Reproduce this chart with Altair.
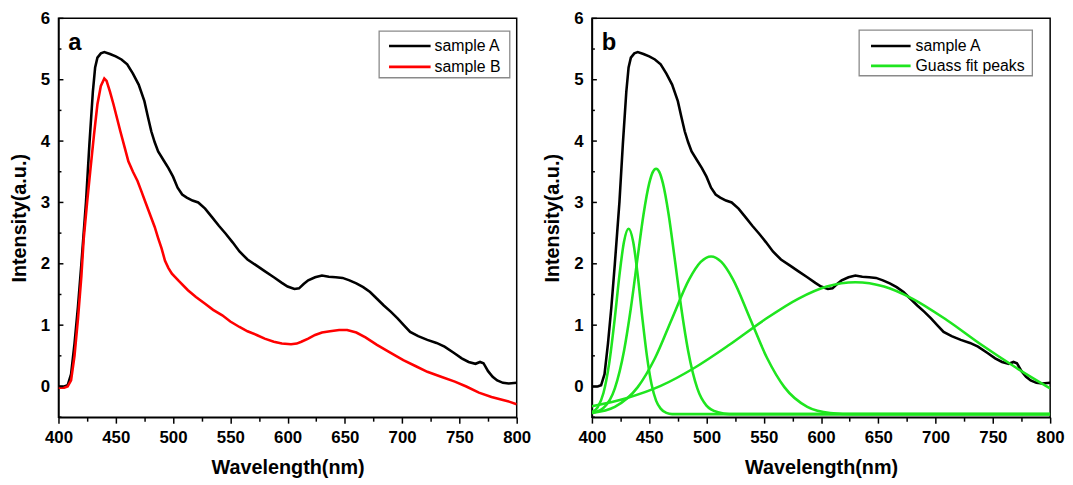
import altair as alt
import pandas as pd

# ---------------- data ----------------
wl_A = [400, 405, 408, 411, 414, 417, 420, 422, 424, 427,
        430, 432, 434, 437, 440, 445, 450, 455, 460, 465,
        470, 475, 478, 481, 484, 487, 492, 496, 500, 504,
        508, 512, 517, 522, 528, 534, 540, 546, 552, 558,
        565, 573, 580, 588, 595, 600, 606, 610, 614, 618,
        624, 630, 636, 642, 648, 654, 660, 666, 672, 678,
        684, 690, 696, 702, 707, 714, 722, 730, 737, 745,
        752, 758, 764, 768, 771, 775, 779, 783, 788, 793,
        800]
int_A = [0.0, 0.0, 0.02, 0.2, 0.7, 1.3, 2.0, 2.5, 3.0, 3.95,
         4.8, 5.2, 5.36, 5.43, 5.45, 5.42, 5.38, 5.33, 5.25, 5.1,
         4.92, 4.65, 4.4, 4.16, 3.98, 3.83, 3.68, 3.56, 3.42, 3.24,
         3.13, 3.08, 3.03, 3.0, 2.9, 2.76, 2.62, 2.49, 2.35, 2.2,
         2.07, 1.97, 1.88, 1.78, 1.69, 1.63, 1.59, 1.6, 1.67, 1.73,
         1.78, 1.81, 1.79, 1.78, 1.77, 1.73, 1.68, 1.62, 1.54, 1.43,
         1.32, 1.22, 1.11, 0.99, 0.89, 0.82, 0.76, 0.71, 0.65, 0.55,
         0.46, 0.40, 0.37, 0.40, 0.38, 0.25, 0.16, 0.10, 0.06, 0.05,
         0.06]

wl_B = [400, 405, 408, 411, 414, 417, 420, 422, 425, 428,
        431, 434, 437, 440, 442, 445, 448, 451, 454, 458,
        461, 465, 469, 472, 476, 480, 484, 487, 490, 493,
        496, 499, 505, 513, 520, 528, 535, 543, 550, 558,
        565, 573, 580, 588, 595, 603, 608, 612, 618, 624,
        630, 637, 645, 652, 660, 668, 678, 690, 701, 712,
        722, 734, 746, 756, 767, 778, 788, 794, 800]
int_B = [-0.02, -0.02, 0.0, 0.1, 0.5, 1.1, 1.8, 2.4, 3.0, 3.56,
         4.1, 4.6, 4.9, 5.02, 4.98, 4.8, 4.6, 4.38, 4.16, 3.88,
         3.67, 3.5, 3.35, 3.2, 3.0, 2.8, 2.6, 2.42, 2.25, 2.05,
         1.93, 1.84, 1.72, 1.57, 1.46, 1.35, 1.25, 1.16, 1.06, 0.97,
         0.9, 0.84, 0.78, 0.73, 0.70, 0.69, 0.7, 0.73, 0.78, 0.84,
         0.88, 0.9, 0.92, 0.92, 0.88, 0.8, 0.68, 0.55, 0.43, 0.33,
         0.24, 0.16, 0.08, 0.0, -0.1, -0.17, -0.22, -0.25, -0.29]

fit1_wl = [400, 405, 410, 415, 420, 424, 428, 432, 436, 440, 444, 448, 452, 456, 460, 465, 470, 800]
fit1_v = [-0.42, -0.34, -0.11, 0.37, 1.12, 1.81, 2.36, 2.57, 2.36, 1.81, 1.12, 0.50, 0.04, -0.23, -0.36, -0.43, -0.45, -0.45]

fit2_wl = [400, 410, 420, 428, 434, 440, 445, 450, 453, 456, 459, 462, 467, 472, 478, 484, 492, 500, 510, 520, 800]
fit2_v = [-0.43, -0.35, -0.03, 0.58, 1.28, 2.12, 2.80, 3.31, 3.49, 3.55, 3.49, 3.31, 2.80, 2.12, 1.28, 0.58, -0.03, -0.31, -0.42, -0.45, -0.45]

fit3_wl = [400, 420, 440, 455, 470, 485, 495, 504, 513, 523, 538, 553, 568, 588, 608, 630, 800]
fit3_v = [-0.43, -0.33, -0.01, 0.46, 1.11, 1.75, 2.03, 2.12, 2.03, 1.75, 1.11, 0.46, -0.01, -0.33, -0.43, -0.45, -0.45]

fit4_wl = [400, 430, 460, 490, 520, 550, 580, 605, 630, 655, 680, 710, 740, 770, 800]
fit4_v = [-0.32, -0.19, 0.01, 0.31, 0.68, 1.08, 1.43, 1.63, 1.70, 1.63, 1.43, 1.08, 0.68, 0.31, -0.03]

x_ticks = [400, 425, 450, 475, 500, 525, 550, 575, 600, 625, 650, 675, 700, 725, 750, 775, 800]
y_major = [0, 1, 2, 3, 4, 5, 6]
y_minor = [-0.5, 0.5, 1.5, 2.5, 3.5, 4.5, 5.5]

legend_a = ["sample A", "sample B"]
legend_b = ["sample A", "Guass fit peaks"]
panel_letters = ["a", "b"]
series_names = ["sample A", "sample B", "Guass fit peaks"]
series_colors = ["#000000", "#ff0000", "#1fe51f"]

# ---------------- layout constants ----------------
FONT = "Liberation Sans"
W, H = 463, 403

x_scale = alt.Scale(domain=[400, 800], nice=False, zero=False)
y_scale = alt.Scale(domain=[-0.5, 6], nice=False, zero=False)
c_scale = alt.Scale(domain=series_names, range=series_colors)

x_axis = alt.Axis(
    title="Wavelength(nm)", values=x_ticks, grid=False, labelFlush=False,
    labelExpr="datum.value % 50 === 0 ? datum.label : ''",
    tickSize={"condition": {"test": "datum.value % 50 === 0", "value": 6}, "value": 4},
    labelPadding=7, titlePadding=12,
)
y_axis = alt.Axis(
    title="Intensity(a.u.)", values=y_major, grid=False, ticks=False, tickSize=0,
    labelFlush=False, labelPadding=9, titlePadding=11,
)


def lines_layer(df, smooth):
    return alt.Chart(df).mark_line(strokeWidth=2.6, clip=True, interpolate=smooth).encode(
        x=alt.X("w:Q", scale=x_scale, axis=x_axis),
        y=alt.Y("v:Q", scale=y_scale, axis=y_axis),
        color=alt.Color("series:N", scale=c_scale, legend=None),
        detail="curve:N",
    )


def yticks_layer(vals, length):
    return alt.Chart(pd.DataFrame({"v": vals})).mark_rule(color="black", strokeWidth=1.5).encode(
        y=alt.Y("v:Q", scale=y_scale, axis=y_axis),
        x=alt.value(0), x2=alt.value(length),
    )


def legend_layers(labels, box, line_x, text_x, rows):
    one = pd.DataFrame({"k": [0]})
    out = [alt.Chart(one).mark_rect(fill="white", stroke="#8a8a8a", strokeWidth=1.3).encode(
        x=alt.value(box[0]), x2=alt.value(box[1]), y=alt.value(box[2]), y2=alt.value(box[3]))]
    for lab, ry in zip(labels, rows):
        col = series_colors[series_names.index(lab)]
        d = pd.DataFrame({"label": [lab]})
        out.append(alt.Chart(d).mark_rule(color=col, strokeWidth=2.6).encode(
            x=alt.value(line_x[0]), x2=alt.value(line_x[1]), y=alt.value(ry)))
        out.append(alt.Chart(d).mark_text(align="left", baseline="middle", fontSize=16, font=FONT,
                                          color="black").encode(
            x=alt.value(text_x), y=alt.value(ry), text="label:N"))
    return out


def letter_layer(t):
    return alt.Chart(pd.DataFrame({"t": [t]})).mark_text(
        align="left", baseline="alphabetic", fontSize=24, fontWeight="bold", font=FONT, color="black"
    ).encode(x=alt.value(10), y=alt.value(32), text="t:N")


dfA = pd.DataFrame({"w": wl_A, "v": int_A, "series": series_names[0], "curve": "A"})
dfB = pd.DataFrame({"w": wl_B, "v": int_B, "series": series_names[1], "curve": "B"})
dfFit = pd.concat([
    pd.DataFrame({"w": fw, "v": fv, "series": series_names[2], "curve": "fit%d" % i})
    for i, (fw, fv) in enumerate([(fit1_wl, fit1_v), (fit2_wl, fit2_v), (fit3_wl, fit3_v), (fit4_wl, fit4_v)])
], ignore_index=True)

panel_a = alt.layer(
    lines_layer(pd.concat([dfA, dfB], ignore_index=True), "linear"),
    yticks_layer(y_major, 5), yticks_layer(y_minor, 3),
    *legend_layers(legend_a, (324, 456, 13, 60), (334, 376), 380, (28, 49)),
    letter_layer(panel_letters[0]),
).properties(width=W, height=H)

panel_b = alt.layer(
    lines_layer(dfA, "linear"),
    lines_layer(dfFit, "monotone"),
    yticks_layer(y_major, 5), yticks_layer(y_minor, 3),
    *legend_layers(legend_b, (270, 445, 12, 58), (282, 322), 327, (28, 48)),
    letter_layer(panel_letters[1]),
).properties(width=W, height=H)

chart = alt.hconcat(panel_a, panel_b, spacing=10).properties(
    padding={"left": 0, "top": -2, "right": 0, "bottom": 0}
).configure(font=FONT).configure_view(
    stroke="black", strokeWidth=1.5
).configure_axis(
    domainColor="black", domainWidth=1.5, tickColor="black", tickWidth=1.5,
    labelFont=FONT, labelFontSize=17, labelFontWeight="bold", labelColor="black",
    titleFont=FONT, titleFontSize=20, titleFontWeight="bold", titleColor="black",
)

chart.save("out.html", embed_options={"renderer": "svg", "actions": False})
